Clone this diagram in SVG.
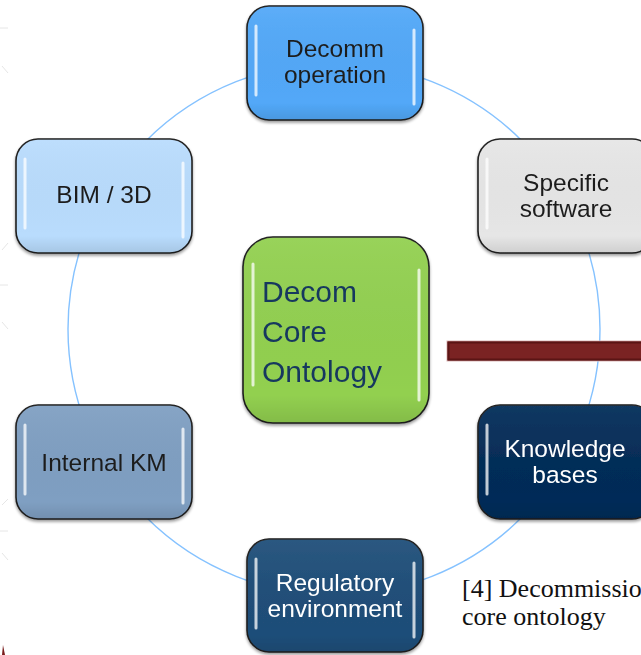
<svg xmlns="http://www.w3.org/2000/svg" width="641" height="655" viewBox="0 0 641 655">
  <defs>
    <filter id="shadow" x="-10%" y="-10%" width="120%" height="125%">
      <feGaussianBlur in="SourceAlpha" stdDeviation="1.5"/>
      <feOffset dx="0" dy="1.5"/>
      <feComponentTransfer><feFuncA type="linear" slope="0.4"/></feComponentTransfer>
      <feMerge><feMergeNode/><feMergeNode in="SourceGraphic"/></feMerge>
    </filter>
    <linearGradient id="shade" x1="0" y1="0" x2="0" y2="1">
      <stop offset="0" stop-color="#ffffff" stop-opacity="0.06"/>
      <stop offset="0.85" stop-color="#000000" stop-opacity="0"/>
      <stop offset="1" stop-color="#000000" stop-opacity="0.10"/>
    </linearGradient>
  </defs>
  <style>
    .box { stroke: #1e1e1e; stroke-width: 1.6; }
    .gloss { fill: url(#shade); stroke: none; }
    .hl { stroke: #ffffff; stroke-width: 3; stroke-linecap: round; fill: none; opacity: 0.75; }
    .lbl { font-family: "Liberation Sans", Arial, sans-serif; font-size: 24.5px; text-anchor: middle; }
    .dark { fill: #1e1e1e; }
    .light { fill: #ffffff; }
    .core { font-family: "Liberation Sans", Arial, sans-serif; font-size: 30px; fill: #17375e; }
    .ring { fill: none; stroke: #85c2ff; stroke-width: 1.4; }
    .edge { stroke: #e6e6e6; stroke-width: 1; }
    .cap { font-family: "Liberation Serif", "Times New Roman", serif; font-size: 26px; fill: #111111; }
  </style>

  <rect width="641" height="655" fill="#ffffff"/>

  <!-- faint marks along the left margin -->
  <g id="margin-marks">
    <line class="edge" x1="0" y1="28" x2="8" y2="28"/>
    <line class="edge" x1="2" y1="66" x2="8" y2="73"/>
    <line class="edge" x1="2" y1="250" x2="8" y2="243"/>
    <line class="edge" x1="0" y1="285" x2="8" y2="285"/>
    <line class="edge" x1="2" y1="322" x2="8" y2="329"/>
    <line class="edge" x1="2" y1="505" x2="8" y2="499"/>
    <line class="edge" x1="0" y1="531" x2="8" y2="531"/>
    <line class="edge" x1="2" y1="553" x2="8" y2="560"/>
    <path d="M2,655 L3,645 L5,655 Z" fill="#7a1c1c"/>
  </g>

  <!-- ring connecting the outer nodes -->
  <g id="connectors">
    <circle class="ring" cx="334" cy="329" r="266"/>
  </g>

  <g id="node-decomm-operation" filter="url(#shadow)">
    <rect class="box" x="247" y="6" width="176" height="114" rx="22" fill="#52a8f8"/>
    <rect class="gloss" x="247" y="6" width="176" height="114" rx="22"/>
    <path class="hl" d="M256,26 L256,95"/>
    <path class="hl" d="M414,30 L414,104"/>
    <text class="lbl dark" x="335" y="57">Decomm</text>
    <text class="lbl dark" x="335" y="83">operation</text>
  </g>

  <g id="node-specific-software" filter="url(#shadow)">
    <rect class="box" x="478" y="139" width="176" height="114" rx="22" fill="#e6e6e6"/>
    <rect class="gloss" x="478" y="139" width="176" height="114" rx="22"/>
    <path class="hl" d="M487,159 L487,228"/>
    <text class="lbl dark" x="566" y="191">Specific</text>
    <text class="lbl dark" x="566" y="217">software</text>
  </g>

  <g id="node-bim-3d" filter="url(#shadow)">
    <rect class="box" x="16" y="139" width="176" height="114" rx="22" fill="#b9dcfd"/>
    <rect class="gloss" x="16" y="139" width="176" height="114" rx="22"/>
    <path class="hl" d="M25,159 L25,228"/>
    <path class="hl" d="M183,163 L183,237"/>
    <text class="lbl dark" x="104" y="203">BIM / 3D</text>
  </g>

  <g id="node-core-ontology" filter="url(#shadow)">
    <rect class="box" x="243" y="237" width="186" height="186" rx="30" fill="#92d050"/>
    <rect class="gloss" x="243" y="237" width="186" height="186" rx="30"/>
    <path class="hl" d="M253,264 L253,385"/>
    <path class="hl" d="M419,270 L419,400"/>
    <text class="core" x="262" y="302">Decom</text>
    <text class="core" x="262" y="342">Core</text>
    <text class="core" x="262" y="382">Ontology</text>
  </g>

  <g id="node-internal-km" filter="url(#shadow)">
    <rect class="box" x="16" y="405" width="176" height="114" rx="22" fill="#7f9fc2"/>
    <rect class="gloss" x="16" y="405" width="176" height="114" rx="22"/>
    <path class="hl" d="M25,425 L25,494"/>
    <path class="hl" d="M183,429 L183,503"/>
    <text class="lbl dark" x="104" y="471">Internal KM</text>
  </g>

  <g id="node-knowledge-bases" filter="url(#shadow)">
    <rect class="box" x="478" y="405" width="176" height="114" rx="22" fill="#032c58"/>
    <rect class="gloss" x="478" y="405" width="176" height="114" rx="22"/>
    <path class="hl" d="M487,425 L487,494" opacity="0.55"/>
    <text class="lbl light" x="565" y="457">Knowledge</text>
    <text class="lbl light" x="565" y="483">bases</text>
  </g>

  <g id="node-regulatory-environment" filter="url(#shadow)">
    <rect class="box" x="247" y="539" width="176" height="113" rx="22" fill="#1f4e79"/>
    <rect class="gloss" x="247" y="539" width="176" height="113" rx="22"/>
    <path class="hl" d="M256,559 L256,628" opacity="0.6"/>
    <path class="hl" d="M414,563 L414,637" opacity="0.6"/>
    <text class="lbl light" x="335" y="591">Regulatory</text>
    <text class="lbl light" x="335" y="617">environment</text>
  </g>

  <!-- dark red bar overlapping the ring on the right -->
  <g id="bar">
    <rect x="447" y="341" width="196" height="20" fill="#7a2323" stroke="#d9b8b8" stroke-width="1"/>
    <rect x="448.5" y="342.5" width="194" height="17" fill="none" stroke="#5a1515" stroke-width="2"/>
  </g>

  <g id="caption">
    <text class="cap" x="462" y="597">[4] Decommissio</text>
    <text class="cap" x="462" y="625">core ontology</text>
  </g>
</svg>
